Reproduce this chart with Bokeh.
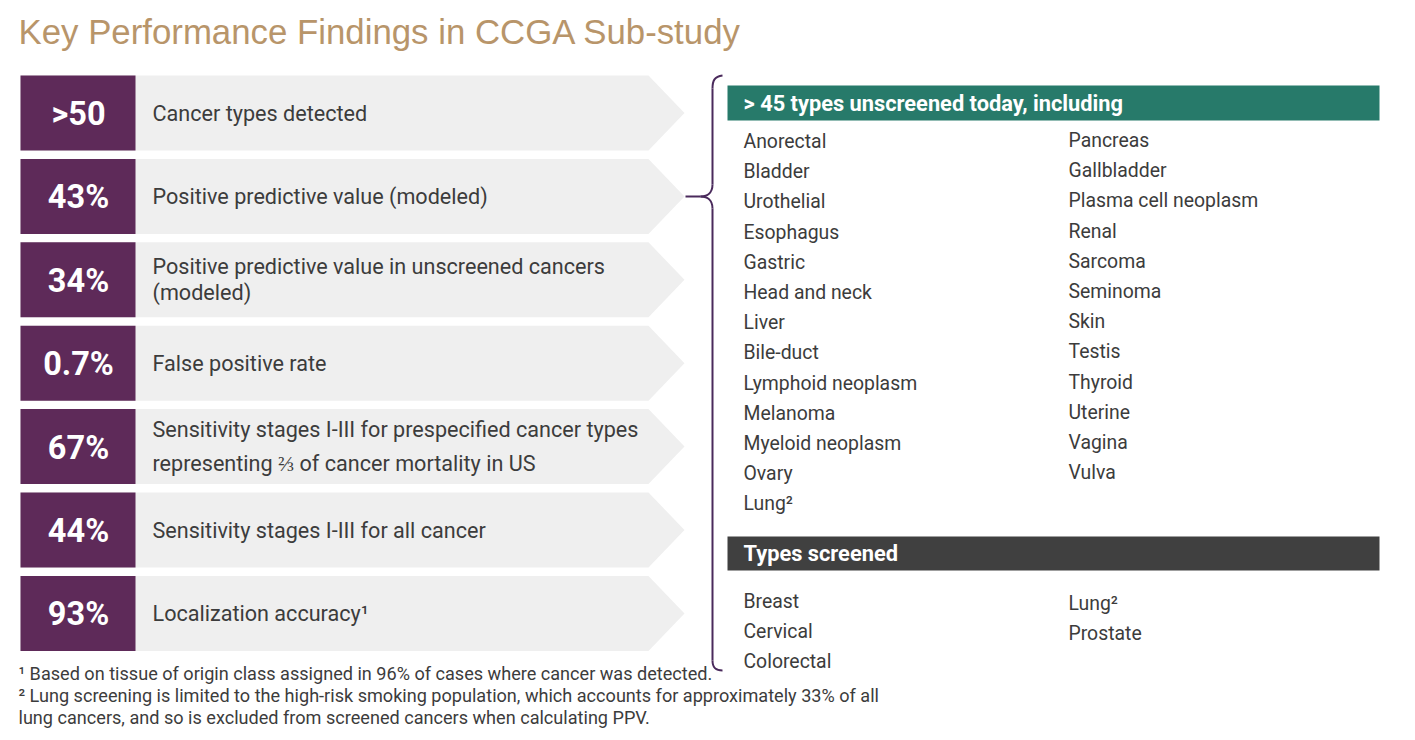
from bokeh.plotting import figure
from bokeh.models import Range1d
from bokeh.core.properties import value
from bokeh.embed import file_html
from bokeh.resources import INLINE

# ---------------- data ----------------
title_text = "Key Performance Findings in CCGA Sub-study"
stat_values = [">50", "43%", "34%", "0.7%", "67%", "44%", "93%"]
stat_labels = [
    "Cancer types detected",
    "Positive predictive value (modeled)",
    "Positive predictive value in unscreened cancers\n(modeled)",
    "False positive rate",
    "Sensitivity stages I-III for prespecified cancer types\nrepresenting \u2154 of cancer mortality in US",
    "Sensitivity stages I-III for all cancer",
    "Localization accuracy\u00b9",
]
unscreened_header = "> 45 types unscreened today, including"
unscreened_col1 = ["Anorectal", "Bladder", "Urothelial", "Esophagus", "Gastric",
                   "Head and neck", "Liver", "Bile-duct", "Lymphoid neoplasm",
                   "Melanoma", "Myeloid neoplasm", "Ovary", "Lung\u00b2"]
unscreened_col2 = ["Pancreas", "Gallbladder", "Plasma cell neoplasm", "Renal",
                   "Sarcoma", "Seminoma", "Skin", "Testis", "Thyroid", "Uterine",
                   "Vagina", "Vulva"]
screened_header = "Types screened"
screened_col1 = ["Breast", "Cervical", "Colorectal"]
screened_col2 = ["Lung\u00b2", "Prostate"]
footnotes = [
    "\u00b9 Based on tissue of origin class assigned in 96% of cases where cancer was detected.",
    "\u00b2 Lung screening is limited to the high-risk smoking population, which accounts for approximately 33% of all",
    "lung cancers, and so is excluded from screened cancers when calculating PPV.",
]

# ---------------- styles ----------------
PURPLE = "#5E2A59"
GRAY_BG = "#EFEFEF"
GREEN = "#277A6A"
DARK = "#404040"
TEXT = "#3C3C3C"
TITLE_C = "#B8956A"
BRACE_C = "#4A2A5C"
FONT = value("Roboto")

W, H = 1415, 740
p = figure(width=W, height=H, output_backend="svg", toolbar_location=None,
           x_range=Range1d(0, W), y_range=Range1d(H, 0),
           x_axis_type=None, y_axis_type=None, min_border=0,
           outline_line_color=None, background_fill_color="white",
           border_fill_color="white")
p.xgrid.visible = False
p.ygrid.visible = False

# title
p.text(x=[18], y=[31], text=[title_text], text_font=value("Liberation Sans"),
       text_font_size="34.8px", text_color=TITLE_C, text_baseline="middle")

# left rows
row_top0, row_pitch, row_h = 75.0, 83.4, 75.0
box_l, box_r, rect_r, tip_x = 20, 135, 648, 684
for i, (val, lab) in enumerate(zip(stat_values, stat_labels)):
    t = row_top0 + i * row_pitch
    b = t + row_h
    m = (t + b) / 2
    p.patch(x=[box_l, rect_r, tip_x, rect_r, box_l], y=[t, t, m, b, b],
            fill_color=GRAY_BG, line_color=None)
    p.quad(left=[box_l], right=[box_r], top=[t], bottom=[b],
           fill_color=PURPLE, line_color=None)
    p.text(x=[(box_l + box_r) / 2 + 0.5], y=[m + 1], text=[val], text_font=FONT,
           text_font_style="bold", text_font_size="32.5px", text_color="white",
           text_align="center", text_baseline="middle")
    lines = lab.split("\n")
    gap = 26 if i == 2 else 34
    n = len(lines)
    for k, ln in enumerate(lines):
        yy = m + (k - (n - 1) / 2) * gap
        p.text(x=[152], y=[yy], text=[ln], text_font=FONT, text_font_size="21.6px",
               text_color=TEXT, text_baseline="middle")

# brace
bx = 712
p.bezier(x0=[722], y0=[75], x1=[bx], y1=[88], cx0=[714], cy0=[76], cx1=[bx], cy1=[80],
         line_color=BRACE_C, line_width=2)
p.segment(x0=[bx], y0=[88], x1=[bx], y1=[184], line_color=BRACE_C, line_width=2)
p.bezier(x0=[bx], y0=[184], x1=[700], y1=[196], cx0=[bx], cy0=[193], cx1=[706], cy1=[196],
         line_color=BRACE_C, line_width=2)
p.segment(x0=[685], y0=[196], x1=[700], y1=[196], line_color=BRACE_C, line_width=2)
p.bezier(x0=[700], y0=[196], x1=[bx], y1=[208], cx0=[706], cy0=[196], cx1=[bx], cy1=[199],
         line_color=BRACE_C, line_width=2)
p.segment(x0=[bx], y0=[208], x1=[bx], y1=[660], line_color=BRACE_C, line_width=2)
p.bezier(x0=[bx], y0=[660], x1=[722], y1=[670], cx0=[bx], cy0=[668], cx1=[716], cy1=[670],
         line_color=BRACE_C, line_width=2)

# right panel headers
hx0, hx1 = 727, 1379
p.quad(left=[hx0], right=[hx1], top=[85], bottom=[120], fill_color=GREEN, line_color=None)
p.text(x=[743], y=[103], text=[unscreened_header], text_font=FONT, text_font_style="bold",
       text_font_size="21.8px", text_color="white", text_baseline="middle")
p.quad(left=[hx0], right=[hx1], top=[536], bottom=[570], fill_color=DARK, line_color=None)
p.text(x=[743], y=[553], text=[screened_header], text_font=FONT, text_font_style="bold",
       text_font_size="21.8px", text_color="white", text_baseline="middle")

col1_x, col2_x = 743, 1068
pitch = 30.2
LIST_FS = "19.4px"
p.text(x=[col1_x] * len(unscreened_col1), y=[141 + i * pitch for i in range(len(unscreened_col1))],
       text=unscreened_col1, text_font=FONT, text_font_size=LIST_FS, text_color=TEXT,
       text_baseline="middle")
p.text(x=[col2_x] * len(unscreened_col2), y=[140 + i * pitch for i in range(len(unscreened_col2))],
       text=unscreened_col2, text_font=FONT, text_font_size=LIST_FS, text_color=TEXT,
       text_baseline="middle")
p.text(x=[col1_x] * len(screened_col1), y=[601 + i * 30 for i in range(len(screened_col1))],
       text=screened_col1, text_font=FONT, text_font_size=LIST_FS, text_color=TEXT,
       text_baseline="middle")
p.text(x=[col2_x] * len(screened_col2), y=[603 + i * 30 for i in range(len(screened_col2))],
       text=screened_col2, text_font=FONT, text_font_size=LIST_FS, text_color=TEXT,
       text_baseline="middle")

# footnotes
p.text(x=[18] * 3, y=[673, 695, 717], text=footnotes, text_font=FONT,
       text_font_size="18.1px", text_color=TEXT, text_baseline="middle")

open("out.html", "w").write(file_html(p, INLINE))
